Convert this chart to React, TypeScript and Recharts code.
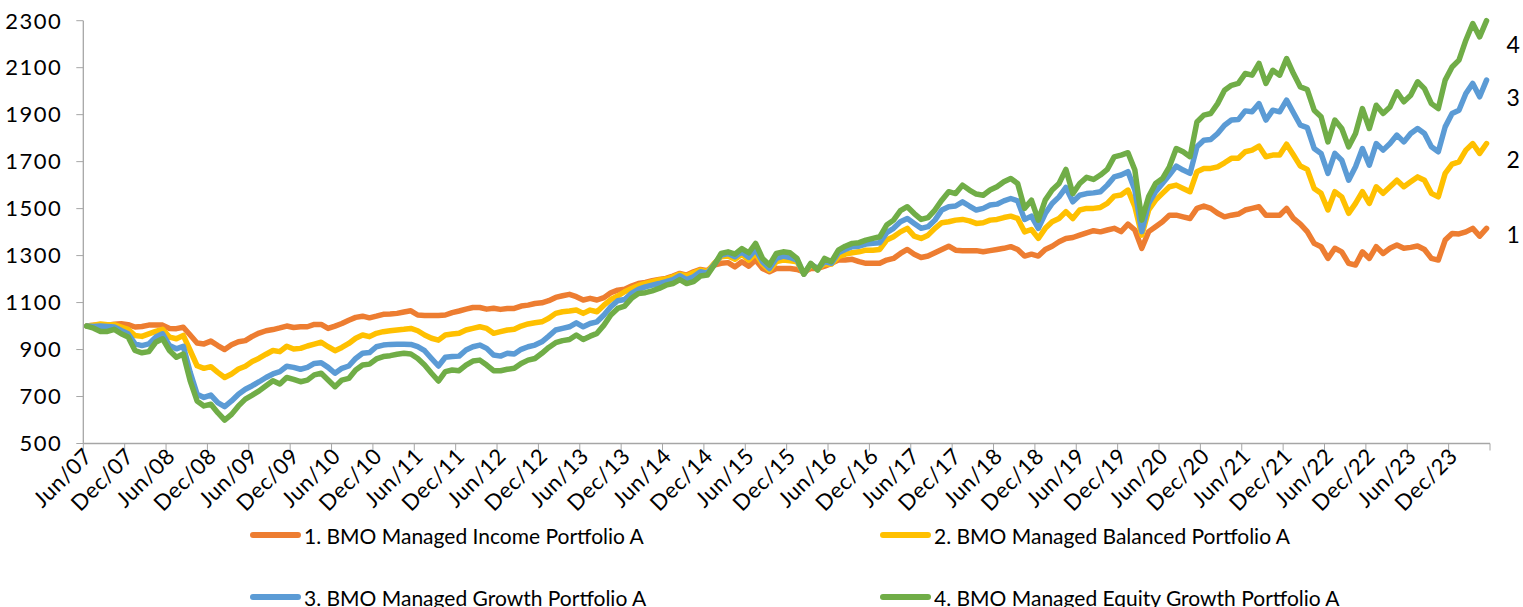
import { LineChart, Line, XAxis, YAxis, ReferenceDot } from 'recharts';

const monthNames = ['Jan', 'Feb', 'Mar', 'Apr', 'May', 'Jun', 'Jul', 'Aug', 'Sep', 'Oct', 'Nov', 'Dec'];

// Jun/07 .. May/24, one point per month
const months: string[] = Array.from({ length: 204 }, (_, i) => {
  const m = (5 + i) % 12;
  const y = 7 + Math.floor((5 + i) / 12);
  return `${monthNames[m]}/${String(y).padStart(2, '0')}`;
});

const income = [
  1000, 1003, 1005, 1004, 1008, 1010, 1006, 996, 998, 1004, 1005, 1004, 990, 989, 995, 962, 928, 924, 936, 917, 900, 920, 933, 938, 956, 970, 980, 985, 992, 1000,
  994, 997, 997, 1007, 1007, 990, 1000, 1011, 1025, 1037, 1042, 1035, 1042, 1050, 1051, 1054, 1060, 1065, 1047, 1045, 1045, 1045, 1047, 1057, 1064, 1072, 1079, 1079, 1072, 1076,
  1071, 1075, 1075, 1085, 1089, 1096, 1099, 1108, 1122, 1129, 1135, 1125, 1111, 1118, 1111, 1121, 1142, 1153, 1157, 1170, 1181, 1186, 1193, 1198, 1203, 1213, 1224, 1217, 1231, 1241,
  1236, 1260, 1267, 1270, 1252, 1274, 1255, 1281, 1245, 1231, 1245, 1245, 1245, 1241, 1231, 1245, 1245, 1255, 1267, 1281, 1281, 1284, 1274, 1267, 1267, 1267, 1281, 1288, 1309, 1326,
  1306, 1292, 1298, 1312, 1326, 1340, 1323, 1321, 1321, 1321, 1316, 1321, 1326, 1331, 1338, 1326, 1298, 1306, 1298, 1326, 1340, 1359, 1373, 1377, 1387, 1397, 1406, 1401, 1409, 1416,
  1402, 1434, 1409, 1331, 1402, 1423, 1444, 1472, 1472, 1465, 1458, 1501, 1511, 1501, 1480, 1465, 1472, 1477, 1494, 1501, 1508, 1472, 1472, 1472, 1501, 1458, 1434, 1402, 1352, 1338,
  1288, 1331, 1316, 1267, 1260, 1316, 1288, 1338, 1309, 1331, 1345, 1331, 1335, 1341, 1326, 1288, 1281, 1366, 1394, 1392, 1401, 1416, 1383, 1416,
];

const balanced = [
  1000, 1004, 1009, 1006, 1006, 996, 986, 960, 956, 967, 977, 986, 953, 946, 960, 896, 831, 820, 827, 803, 781, 796, 817, 829, 849, 863, 880, 896, 891, 914,
  902, 905, 915, 923, 931, 912, 895, 909, 926, 948, 962, 955, 969, 976, 980, 983, 986, 990, 980, 962, 948, 940, 962, 966, 969, 983, 990, 997, 990, 969,
  976, 983, 986, 1000, 1009, 1014, 1018, 1033, 1054, 1061, 1064, 1068, 1054, 1068, 1061, 1089, 1113, 1128, 1146, 1160, 1173, 1182, 1189, 1196, 1200, 1210, 1221, 1213, 1227, 1238,
  1231, 1267, 1295, 1298, 1284, 1306, 1281, 1309, 1264, 1238, 1274, 1281, 1278, 1274, 1221, 1260, 1245, 1264, 1264, 1295, 1306, 1312, 1316, 1323, 1323, 1326, 1366, 1380, 1401, 1416,
  1383, 1373, 1387, 1416, 1440, 1444, 1451, 1454, 1448, 1437, 1440, 1451, 1454, 1462, 1468, 1458, 1401, 1411, 1373, 1416, 1444, 1458, 1487, 1458, 1494, 1501, 1501, 1505, 1522, 1553,
  1558, 1579, 1508, 1387, 1494, 1536, 1565, 1593, 1600, 1586, 1572, 1657, 1671, 1671, 1678, 1695, 1714, 1714, 1742, 1749, 1766, 1721, 1728, 1728, 1774, 1728, 1681, 1667, 1586, 1565,
  1494, 1572, 1550, 1480, 1522, 1572, 1522, 1593, 1565, 1593, 1621, 1593, 1614, 1635, 1621, 1565, 1550, 1650, 1689, 1699, 1749, 1777, 1735, 1777,
];

const growth = [
  1000, 998, 1000, 998, 996, 981, 967, 924, 917, 924, 953, 967, 917, 903, 914, 803, 710, 696, 706, 674, 657, 681, 710, 731, 746, 763, 781, 796, 806, 829,
  824, 816, 824, 841, 844, 824, 799, 820, 830, 862, 884, 887, 912, 919, 922, 923, 923, 922, 912, 895, 862, 830, 867, 870, 872, 898, 912, 919, 905, 877,
  872, 884, 881, 901, 912, 919, 933, 957, 983, 990, 997, 1014, 997, 1011, 1018, 1047, 1082, 1108, 1113, 1139, 1156, 1167, 1174, 1181, 1189, 1198, 1214, 1198, 1210, 1231,
  1225, 1262, 1302, 1309, 1295, 1316, 1292, 1326, 1274, 1245, 1288, 1298, 1292, 1281, 1221, 1264, 1245, 1274, 1267, 1312, 1326, 1338, 1340, 1349, 1352, 1355, 1397, 1416, 1444, 1458,
  1437, 1416, 1423, 1451, 1494, 1508, 1511, 1529, 1511, 1494, 1501, 1515, 1519, 1533, 1543, 1533, 1454, 1468, 1416, 1479, 1522, 1550, 1590, 1529, 1557, 1564, 1567, 1572, 1600, 1635,
  1643, 1657, 1579, 1402, 1522, 1572, 1607, 1643, 1681, 1664, 1650, 1763, 1791, 1794, 1820, 1855, 1877, 1879, 1916, 1912, 1947, 1877, 1919, 1912, 1962, 1908, 1855, 1845, 1756, 1735,
  1650, 1735, 1706, 1621, 1678, 1756, 1685, 1777, 1749, 1777, 1813, 1784, 1820, 1841, 1820, 1763, 1742, 1848, 1905, 1919, 1990, 2033, 1976, 2047,
];

const equity = [
  1000, 991, 977, 977, 986, 967, 953, 896, 886, 891, 931, 946, 896, 867, 881, 767, 681, 660, 667, 631, 600, 624, 660, 689, 706, 724, 746, 767, 753, 781,
  773, 763, 770, 792, 799, 770, 742, 770, 777, 813, 834, 838, 860, 870, 874, 880, 884, 881, 862, 834, 799, 766, 806, 813, 810, 834, 851, 855, 834, 810,
  810, 816, 820, 841, 855, 862, 884, 909, 929, 938, 943, 962, 943, 957, 969, 1004, 1047, 1075, 1085, 1118, 1139, 1142, 1150, 1160, 1174, 1181, 1198, 1181, 1189, 1213,
  1217, 1260, 1309, 1316, 1306, 1330, 1312, 1352, 1288, 1260, 1309, 1316, 1312, 1288, 1221, 1267, 1238, 1288, 1274, 1323, 1340, 1352, 1355, 1366, 1373, 1380, 1430, 1451, 1491, 1508,
  1479, 1454, 1462, 1494, 1536, 1572, 1564, 1600, 1579, 1562, 1557, 1579, 1593, 1614, 1628, 1607, 1501, 1536, 1451, 1536, 1579, 1607, 1667, 1564, 1607, 1633, 1624, 1643, 1667, 1720,
  1728, 1738, 1664, 1451, 1551, 1607, 1628, 1678, 1756, 1742, 1721, 1869, 1898, 1905, 1947, 2004, 2025, 2033, 2075, 2068, 2118, 2033, 2089, 2068, 2139, 2075, 2018, 2007, 1919, 1891,
  1784, 1877, 1841, 1763, 1820, 1926, 1841, 1940, 1905, 1933, 1997, 1955, 1983, 2040, 2011, 1947, 1926, 2047, 2103, 2132, 2217, 2288, 2231, 2300,
];

const seriesNames = [
  '1. BMO Managed Income Portfolio A',
  '2. BMO Managed Balanced Portfolio A',
  '3. BMO Managed Growth Portfolio A',
  '4. BMO Managed Equity Growth Portfolio A',
];
const seriesKeys = ['income', 'balanced', 'growth', 'equity'];
const colors = ['#ED7D31', '#FFC000', '#5B9BD5', '#70AD47'];

// numbers written at the right end of the lines
const endLabels = ['1', '2', '3', '4'];
const endLabelValues = [1387, 1706, 1970, 2196];

const yTicks = [500, 700, 900, 1100, 1300, 1500, 1700, 1900, 2100, 2300];

const data = months.map((month, i) => ({
  month,
  income: income[i],
  balanced: balanced[i],
  growth: growth[i],
  equity: equity[i],
}));

const W = 1523;
const plotLeft = 83.3;
const plotRight = 1490;
const step = (plotRight - plotLeft) / months.length;
const axisColor = '#A6A6A6';
const font = 'Lato, "Open Sans", sans-serif';

const MonthTick = (props: any) => {
  const { x, y, payload } = props;
  const last = payload.value === months[months.length - 6];
  return (
    <g>
      <line x1={x - step / 2} x2={x - step / 2} y1={y} y2={y + 7} stroke={axisColor} />
      {last && (
        <line x1={x + 5.5 * step} x2={x + 5.5 * step} y1={y} y2={y + 7} stroke={axisColor} />
      )}
      <text
        transform={`translate(${x + 7},${y + 14}) rotate(-45)`}
        textAnchor="end"
        fontSize={22}
        letterSpacing={0.6}
        fill="#000"
        fontFamily={font}
      >
        {payload.value}
      </text>
    </g>
  );
};

export default function App() {
  return (
    <div style={{ position: 'absolute', left: 0, top: 0, width: W, height: 607, fontFamily: font, background: '#fff' }}>
      <LineChart
        width={W}
        height={530}
        data={data}
        margin={{ top: 20.7, right: W - plotRight, bottom: 0, left: 0 }}
      >
        <XAxis
          dataKey="month"
          interval={5}
          height={86.5}
          tickSize={0}
          tickMargin={0}
          tickLine={false}
          axisLine={{ stroke: axisColor, strokeWidth: 1.3 }}
          padding={{ left: step / 2, right: step / 2 }}
          tick={(p: any) => <MonthTick {...p} />}
        />
        <YAxis
          domain={[500, 2300]}
          ticks={yTicks}
          width={plotLeft}
          tickSize={7}
          tickMargin={14}
          axisLine={{ stroke: axisColor, strokeWidth: 1.3 }}
          tickLine={{ stroke: axisColor }}
          tick={{ fontSize: 22, fill: '#000', fontFamily: font, letterSpacing: 1.5 }}
        />
        {seriesKeys.map((k, i) => (
          <Line
            key={k}
            dataKey={k}
            name={seriesNames[i]}
            type="linear"
            stroke={colors[i]}
            strokeWidth={5.5}
            strokeLinejoin="round"
            strokeLinecap="round"
            dot={false}
            isAnimationActive={false}
          />
        ))}
        {endLabels.map((t, i) => (
          <ReferenceDot
            key={t}
            x={months[months.length - 1]}
            y={endLabelValues[i]}
            r={0}
            fill="none"
            stroke="none"
            ifOverflow="visible"
            label={{ value: t, position: 'right', offset: 20, fontSize: 23, fill: '#000', fontFamily: font }}
          />
        ))}
      </LineChart>
      {seriesNames.map((name, i) => (
        <div
          key={name}
          style={{
            position: 'absolute',
            left: i % 2 === 0 ? 250 : 880,
            top: i < 2 ? 535 - 13 : 597 - 13,
            height: 26,
            display: 'flex',
            alignItems: 'center',
            whiteSpace: 'nowrap',
            fontSize: 21,
            color: '#000',
          }}
        >
          <span style={{ display: 'inline-block', width: 51, height: 6, borderRadius: 3, background: colors[i], marginRight: 3 }} />
          {name}
        </div>
      ))}
    </div>
  );
}
